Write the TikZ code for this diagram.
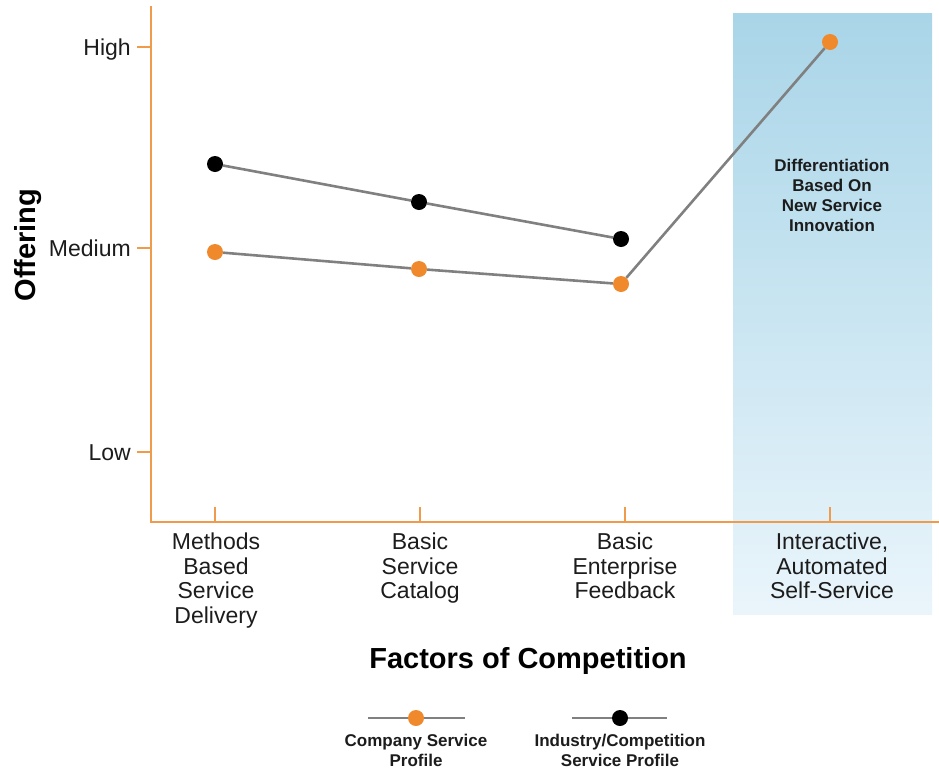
\documentclass[tikz,border=0pt]{standalone}
\usepackage{fontspec}
\setmainfont{Liberation Sans}
\definecolor{axisorange}{HTML}{F09A4C}
\definecolor{dotorange}{HTML}{F0892C}
\definecolor{linegray}{HTML}{808080}
\definecolor{txt}{HTML}{1C1C1C}
\definecolor{boxtop}{HTML}{A9D5E8}
\definecolor{boxbot}{HTML}{EAF5FB}
\begin{document}
\begin{tikzpicture}[x=1pt,y=-1pt,
  axis/.style={draw=axisorange, line width=1.8pt},
  prof/.style={draw=linegray, line width=2.6pt},
  odot/.style={circle, fill=dotorange, minimum size=16pt, inner sep=0pt},
  kdot/.style={circle, fill=black, minimum size=16pt, inner sep=0pt},
  ylab/.style={anchor=base east, inner sep=0pt, font=\fontsize{23}{24}\selectfont, text=txt},
  xlab/.style={anchor=north, align=center, inner sep=0pt, font=\fontsize{23}{24.5}\selectfont, text=txt},
  title/.style={font=\bfseries\fontsize{29}{31}\selectfont, text=black},
  note/.style={anchor=north, align=center, inner sep=0pt, font=\bfseries\fontsize{17}{20}\selectfont, text=txt},
]
\useasboundingbox (0,0) rectangle (939,774);
% shaded region
\shade[top color=boxtop, bottom color=boxbot] (733,13) rectangle (932,614);
% axes
\draw[axis] (151,6) -- (151,522) -- (939,522);
\foreach \y/\n in {47/High,248/Medium,452/Low}{
  \draw[axis] (137,\y) -- (151,\y);
  \node[ylab] (lab\n) at (131,\y+8) {\n};
}
\foreach \x in {215,420,625,830}{
  \draw[axis] (\x,507) -- (\x,522);
}
% axis titles
\node[title, rotate=90] (offering) at (28,245) {Offering};
\node[title] (factors) at (528,661) {Factors of Competition};
% x labels
\node[xlab] (x1) at (216,533) {Methods\\Based\\Service\\Delivery};
\node[xlab] (x2) at (420,533) {Basic\\Service\\Catalog};
\node[xlab] (x3) at (625,533) {Basic\\Enterprise\\Feedback};
\node[xlab] (x4) at (832,533) {Interactive,\\Automated\\Self-Service};
% note
\node[note] (note) at (832,159) {Differentiation\\Based On\\New Service\\Innovation};
% data points
\node[odot] (o1) at (215,252) {};
\node[odot] (o2) at (419,269) {};
\node[odot] (o3) at (621,284) {};
\node[odot] (o4) at (830,42) {};
\node[kdot] (k1) at (215,164) {};
\node[kdot] (k2) at (419,202) {};
\node[kdot] (k3) at (621,239) {};
\draw[prof] (o1) -- (o2) -- (o3) -- (o4);
\draw[prof] (k1) -- (k2) -- (k3);
% legend
\node[odot] (lo) at (416,718) {};
\node[kdot] (lk) at (620,718) {};
\coordinate (la) at (368,718);
\coordinate (lb) at (465,718);
\coordinate (lc) at (572,718);
\coordinate (ld) at (667,718);
\draw[prof] (la) -- (lo) -- (lb);
\draw[prof] (lc) -- (lk) -- (ld);
\node[note] (lt1) at (416,734) {Company Service\\Profile};
\node[note] (lt2) at (620,734) {Industry/Competition\\Service Profile};
\end{tikzpicture}
\end{document}
